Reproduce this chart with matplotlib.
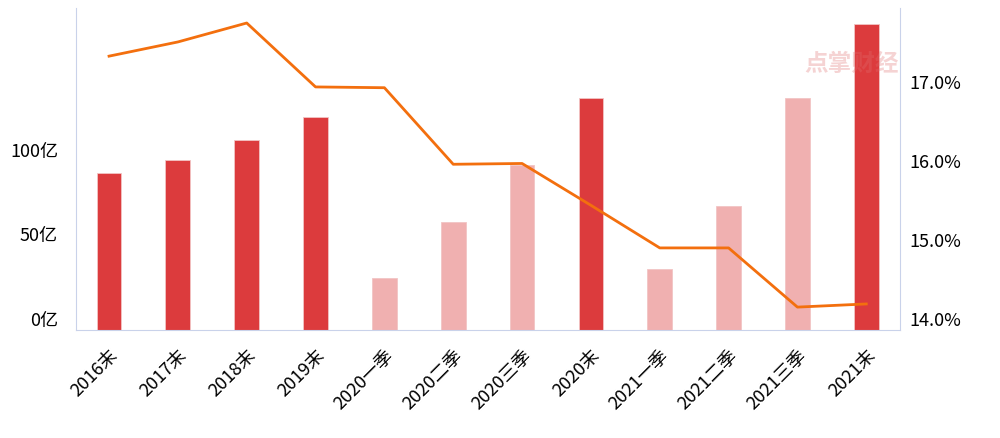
import matplotlib.pyplot as plt
import numpy as np

plt.rcParams['font.family'] = ['Noto Sans CJK SC', 'DejaVu Sans']

categories = ['2016末', '2017末', '2018末', '2019末', '2020一季', '2020二季', '2020三季',
              '2020末', '2021一季', '2021二季', '2021三季', '2021末']
amounts = [92.9, 100.6, 112.4, 126.0, 30.8, 63.9, 97.6, 137.3, 36.1, 73.4, 137.3, 181.0]
is_year_end = [True, True, True, True, False, False, False, True, False, False, False, True]
ratio = [17.47, 17.65, 17.89, 17.08, 17.07, 16.10, 16.11, 15.58, 15.04, 15.04, 14.29, 14.33]

dark = '#DC3B3D'
light = '#F0B0B0'
spine_col = '#C9D2EA'

fig = plt.figure(figsize=(10, 4.38), dpi=100)
ax = fig.add_axes([0.076, 0.2466, 0.824, 0.7351])
x = np.arange(len(categories))
colors = [dark if y else light for y in is_year_end]
ax.bar(x, amounts, width=0.36, color=colors, edgecolor='#F2C4C4', linewidth=0.6, zorder=2)
ax.set_ylim(0, 190.5)
ax.set_xlim(-0.48, 11.49)
ax.set_yticks([0, 50, 100])
ax.set_yticklabels(['0亿', '50亿', '100亿'], fontsize=13)
for lab in ax.get_yticklabels():
    lab.set_va('bottom')
ax.set_xticks(x)
ax.set_xticklabels(categories, rotation=45, ha='right', rotation_mode='anchor', fontsize=13)
ax.tick_params(axis='y', length=0, pad=13)
ax.tick_params(axis='x', length=0, pad=12)
for s in ['top', 'right']:
    ax.spines[s].set_visible(False)
for s in ['left', 'bottom']:
    ax.spines[s].set_color(spine_col)

ax2 = ax.twinx()
ax2.plot(x, ratio, color='#F36F0E', linewidth=2, zorder=3)
ax2.set_ylim(14, 18.08)
ax2.set_yticks([14, 15, 16, 17])
ax2.set_yticklabels(['14.0%', '15.0%', '16.0%', '17.0%'], fontsize=13)
for lab in ax2.get_yticklabels():
    lab.set_va('bottom')
ax2.tick_params(axis='y', length=0, pad=7)
for s in ['top', 'left', 'bottom']:
    ax2.spines[s].set_visible(False)
ax2.spines['right'].set_color(spine_col)

# watermark
fig.text(0.852, 0.855, '点掌财经', fontsize=17, color='#E07070', alpha=0.3,
         ha='center', va='center', fontweight='bold', zorder=10)

fig.savefig('out.png', dpi=100)
